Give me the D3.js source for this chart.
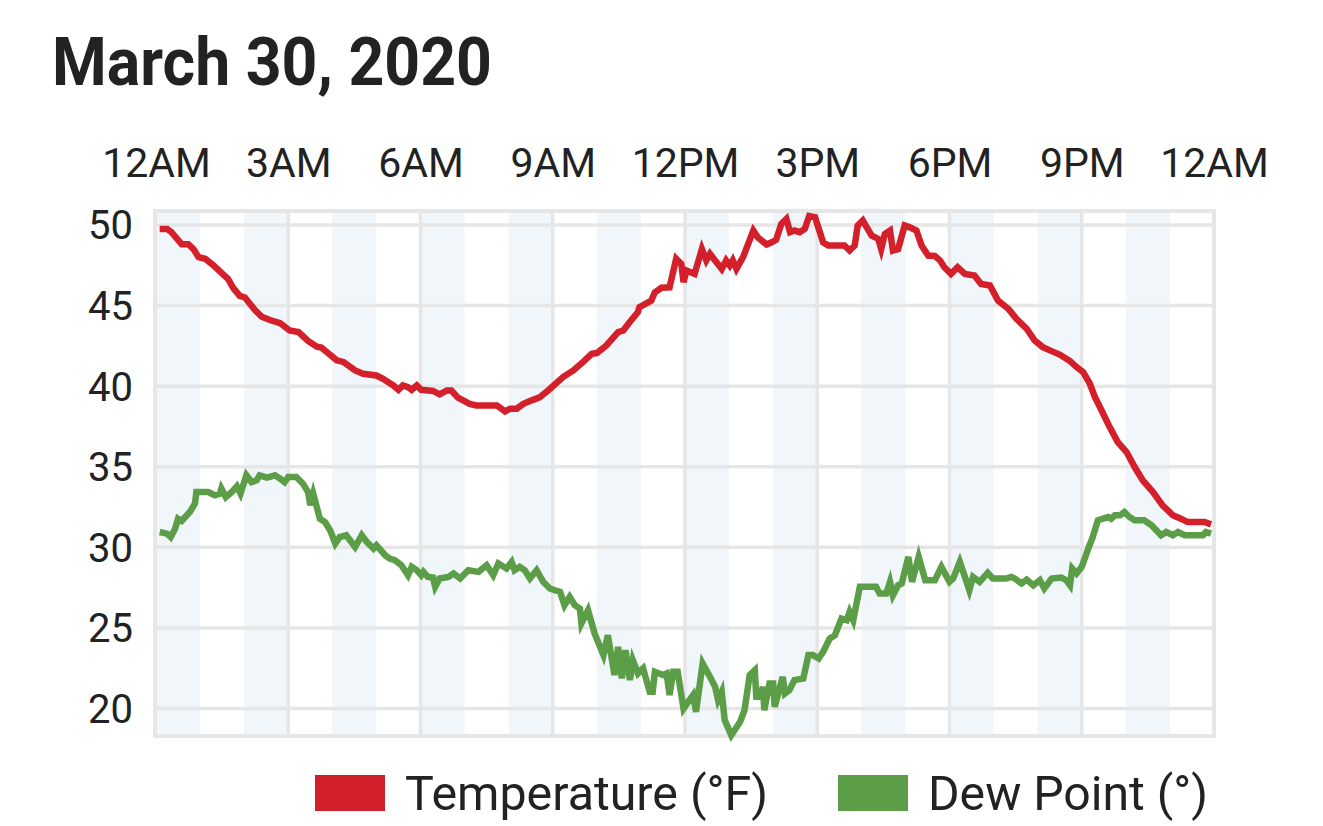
<!DOCTYPE html>
<html>
<head>
<meta charset="utf-8">
<script src="https://cdn.jsdelivr.net/npm/d3@7"></script>
<style>
  body { margin: 0; background: #fff; }
  svg { display: block; font-family: Roboto, "Noto Sans", sans-serif; }
</style>
</head>
<body>
<div id="chart"></div>
<script>
// minutes after midnight and readings, picked off the original chart
const tempMinutes = [5, 15, 21, 35, 44, 51, 58, 67, 78, 92, 98, 105, 114, 121, 135, 144, 155, 169, 182, 194,
  207, 219, 225, 246, 255, 271, 282, 300, 309, 323, 330, 336, 343, 348, 355, 361, 377, 386, 396, 402,
  411, 427, 436, 464, 475, 482, 491, 500, 513, 522, 534, 554, 568, 581, 593, 600, 613, 629, 636, 643,
  656, 658, 674, 679, 688, 699, 708, 715, 718, 722, 733, 743, 749, 754, 770, 776, 781, 785, 790, 799,
  813, 819, 831, 838, 844, 851, 858, 863, 869, 876, 883, 889, 897, 908, 915, 931, 937, 944, 951, 955,
  962, 974, 983, 987, 992, 999, 1003, 1010, 1019, 1026, 1035, 1042, 1051, 1060, 1067, 1073, 1082, 1091, 1101, 1114,
  1123, 1135, 1146, 1160, 1171, 1185, 1196, 1207, 1219, 1230, 1244, 1253, 1262, 1271, 1278, 1287, 1298, 1309, 1321, 1332,
  1343, 1357, 1370, 1384, 1395, 1404, 1427, 1436];
const tempValues = [49.75, 49.75, 49.55, 48.8, 48.8, 48.5, 48.0, 47.9, 47.5, 46.9, 46.65, 46.1, 45.6, 45.5, 44.7, 44.3, 44.1, 43.9, 43.45, 43.35,
  42.8, 42.45, 42.4, 41.6, 41.5, 40.97, 40.77, 40.66, 40.45, 40.04, 39.77, 40.04, 39.94, 39.77, 40.04, 39.77, 39.7, 39.49, 39.73, 39.73,
  39.28, 38.9, 38.8, 38.8, 38.43, 38.6, 38.6, 38.9, 39.15, 39.3, 39.75, 40.56, 40.97, 41.49, 42.0, 42.05, 42.52, 43.35, 43.45, 43.87,
  44.6, 44.9, 45.3, 45.82, 46.1, 46.13, 47.9, 47.58, 46.45, 47.17, 46.96, 48.5, 47.8, 48.2, 47.27, 47.8, 47.48, 47.8, 47.27, 48.0,
  49.65, 49.23, 48.78, 48.92, 49.07, 50.06, 50.37, 49.55, 49.65, 49.55, 49.75, 50.55, 50.47, 48.92, 48.72, 48.72, 48.72, 48.41, 48.72, 49.96,
  50.27, 49.34, 49.13, 48.5, 49.44, 49.65, 48.41, 48.5, 49.96, 49.85, 49.65, 48.72, 48.1, 48.07, 47.8, 47.37, 46.96, 47.37, 46.96, 46.86,
  46.34, 46.24, 45.31, 44.8, 44.18, 43.56, 42.83, 42.42, 42.17, 41.96, 41.55, 41.18, 40.87, 40.15, 39.32, 38.49, 37.46, 36.53, 35.91, 34.98,
  34.16, 33.43, 32.61, 31.99, 31.78, 31.57, 31.57, 31.43];

const dewMinutes = [5, 15, 20, 26, 30, 35, 46, 53, 55, 71, 80, 87, 89, 95, 103, 110, 115, 123, 130, 137,
  141, 151, 162, 169, 175, 180, 191, 200, 207, 210, 214, 223, 230, 237, 244, 250, 259, 271, 280, 287,
  296, 300, 312, 318, 325, 334, 343, 348, 355, 361, 364, 370, 377, 380, 386, 398, 405, 414, 425, 439,
  450, 459, 466, 477, 484, 488, 495, 502, 509, 518, 527, 536, 543, 550, 556, 563, 570, 577, 579, 588,
  597, 609, 615, 624, 629, 634, 639, 645, 649, 656, 663, 672, 676, 679, 690, 695, 699, 704, 710, 718,
  726, 731, 735, 744, 754, 761, 765, 770, 774, 783, 795, 801, 808, 815, 817, 822, 826, 828, 835, 840,
  842, 853, 856, 862, 869, 881, 888, 894, 902, 908, 917, 924, 933, 940, 944, 949, 958, 980, 985, 994,
  999, 1003, 1010, 1015, 1024, 1029, 1038, 1047, 1060, 1069, 1080, 1085, 1094, 1101, 1107, 1112, 1121, 1132, 1139, 1157,
  1164, 1169, 1178, 1185, 1194, 1203, 1209, 1219, 1232, 1239, 1244, 1247, 1253, 1260, 1269, 1275, 1282, 1289, 1296, 1300,
  1305, 1312, 1318, 1325, 1332, 1345, 1355, 1368, 1375, 1384, 1391, 1400, 1425, 1429, 1436];
const dewValues = [30.95, 30.85, 30.64, 31.16, 31.78, 31.64, 32.19, 32.71, 33.43, 33.43, 33.23, 33.33, 33.64, 33.12, 33.43, 33.79, 33.33, 34.47, 34.05, 34.16,
  34.47, 34.32, 34.47, 34.26, 34.05, 34.36, 34.36, 33.95, 33.43, 32.61, 33.33, 31.78, 31.57, 31.06, 30.24, 30.64, 30.75, 30.02, 30.75, 30.33,
  29.93, 30.13, 29.51, 29.3, 29.2, 28.89, 28.27, 28.79, 28.58, 28.27, 28.48, 28.17, 28.13, 27.55, 28.07, 28.17, 28.38, 28.07, 28.58, 28.48,
  28.89, 28.27, 29.0, 28.69, 29.1, 28.58, 28.79, 28.58, 28.07, 28.58, 27.86, 27.45, 27.34, 27.24, 26.41, 26.93, 26.41, 26.2, 25.28, 26.1,
  24.66, 23.32, 24.55, 22.08, 23.83, 21.87, 23.62, 21.77, 23.0, 22.18, 22.49, 21.04, 21.04, 22.28, 22.08, 22.18, 20.84, 22.28, 22.28, 20.0,
  20.53, 20.84, 19.8, 22.8, 21.97, 21.35, 20.53, 21.04, 19.29, 18.35, 19.18, 19.9, 22.08, 22.38, 20.73, 20.73, 21.35, 19.9, 21.56, 21.56,
  20.11, 21.97, 20.94, 21.15, 21.77, 21.87, 23.32, 23.32, 23.11, 23.52, 24.35, 24.55, 25.59, 25.48, 26.0, 25.48, 27.55, 27.55, 27.14, 27.14,
  27.86, 27.03, 27.65, 27.76, 29.41, 27.86, 29.41, 27.96, 27.96, 28.79, 27.86, 28.07, 29.1, 28.17, 27.34, 28.17, 27.86, 28.42, 28.07, 28.07,
  28.17, 28.07, 27.76, 28.0, 27.65, 27.96, 27.45, 28.07, 28.13, 27.96, 27.65, 28.69, 28.38, 28.79, 29.93, 30.64, 31.68, 31.78, 31.88, 31.78,
  31.99, 31.99, 32.19, 31.88, 31.68, 31.68, 31.37, 30.75, 30.95, 30.75, 30.95, 30.75, 30.75, 30.95, 30.85];

const xTickMinutes = [0, 180, 360, 540, 720, 900, 1080, 1260, 1440];
const xTickLabels = ["12AM", "3AM", "6AM", "9AM", "12PM", "3PM", "6PM", "9PM", "12AM"];
const yTicks = [20, 25, 30, 35, 40, 45, 50];
const bandStarts = [0, 120, 240, 360, 480, 600, 720, 840, 960, 1080, 1200, 1320];

const seriesNames = ["Temperature (°F)", "Dew Point (°)"];
const seriesColors = ["#d4202b", "#5b9e47"];

const width = 1323, height = 826;
const plot = { left: 156, right: 1214, top: 212, bottom: 736 };

const svg = d3.select("#chart").append("svg")
  .attr("width", width)
  .attr("height", height);

const x = d3.scaleLinear().domain([0, 1440]).range([plot.left, plot.right]);
const y = d3.scaleLinear().domain([18.3, 50.8]).range([plot.bottom, plot.top]);

svg.append("text")
  .attr("x", 52)
  .attr("y", 85)
  .attr("fill", "#222")
  .attr("textLength", 440)
  .attr("lengthAdjust", "spacingAndGlyphs")
  .style("font-size", "66px")
  .style("font-weight", "bold")
  .text("March 30, 2020");

// light hourly bands
svg.append("g").selectAll("rect")
  .data(bandStarts)
  .join("rect")
  .attr("x", (d) => x(d))
  .attr("width", (d) => x(d + 60) - x(d))
  .attr("y", plot.top)
  .attr("height", plot.bottom - plot.top)
  .attr("fill", "#f1f6fb");

const grid = svg.append("g").attr("stroke", "#e6e6e6").attr("stroke-width", 3.5);

grid.selectAll(".h")
  .data(yTicks)
  .join("line")
  .attr("x1", plot.left)
  .attr("x2", plot.right)
  .attr("y1", (d) => y(d))
  .attr("y2", (d) => y(d));

grid.selectAll(".v")
  .data(xTickMinutes.slice(1, -1))
  .join("line")
  .attr("x1", (d) => x(d))
  .attr("x2", (d) => x(d))
  .attr("y1", plot.top)
  .attr("y2", plot.bottom);

svg.append("rect")
  .attr("x", plot.left - 1)
  .attr("y", plot.top - 1)
  .attr("width", plot.right - plot.left + 1)
  .attr("height", plot.bottom - plot.top + 1)
  .attr("fill", "none")
  .attr("stroke", "#e6e6e6")
  .attr("stroke-width", 4);

// axes: labels only
const xAxis = svg.append("g")
  .attr("transform", `translate(0,${plot.top - 35})`)
  .call(d3.axisTop(x).tickValues(xTickMinutes).tickFormat((d, i) => xTickLabels[i]).tickSize(0).tickPadding(0));
xAxis.select(".domain").remove();
xAxis.selectAll("text")
  .attr("fill", "#222")
  .style("font-size", "41px")
  .style("font-family", "Roboto, sans-serif");

const yAxis = svg.append("g")
  .attr("transform", `translate(${plot.left - 23},0)`)
  .call(d3.axisLeft(y).tickValues(yTicks).tickSize(0).tickPadding(0));
yAxis.select(".domain").remove();
yAxis.selectAll("text")
  .attr("fill", "#222")
  .attr("dy", "0.35em")
  .style("font-size", "40px")
  .style("font-family", "Roboto, sans-serif");

const line = d3.line()
  .x((d) => x(d[0]))
  .y((d) => y(d[1]));

const series = [
  d3.zip(tempMinutes, tempValues),
  d3.zip(dewMinutes, dewValues),
];

svg.append("g").selectAll("path")
  .data(series)
  .join("path")
  .attr("d", line)
  .attr("fill", "none")
  .attr("stroke", (d, i) => seriesColors[i])
  .attr("stroke-width", 6.5)
  .attr("stroke-linejoin", "miter");

// legend
const legendX = [315, 838];
const legendTextWidth = [363, 280];
const legend = svg.append("g").selectAll("g")
  .data(seriesNames)
  .join("g")
  .attr("transform", (d, i) => `translate(${legendX[i]},775)`);

legend.append("rect")
  .attr("width", 70)
  .attr("height", 36)
  .attr("fill", (d, i) => seriesColors[i]);

legend.append("text")
  .attr("x", 90)
  .attr("y", 35)
  .attr("fill", "#222")
  .attr("textLength", (d, i) => legendTextWidth[i])
  .attr("lengthAdjust", "spacingAndGlyphs")
  .style("font-size", "49px")
  .text((d) => d);
</script>
</body>
</html>
